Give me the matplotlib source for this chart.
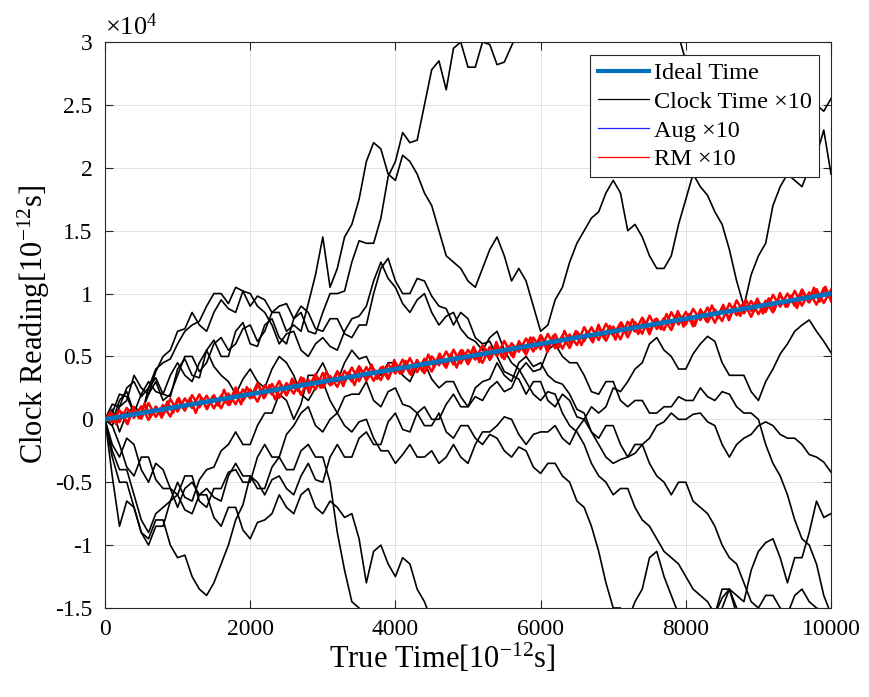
import matplotlib
matplotlib.use("Agg")
import matplotlib.pyplot as plt
import numpy as np
from matplotlib.lines import Line2D
from matplotlib.ticker import FuncFormatter

plt.rcParams["font.family"] = ["Liberation Serif", "DejaVu Serif"]
plt.rcParams["mathtext.fontset"] = "custom"
plt.rcParams["mathtext.rm"] = "Liberation Serif"
plt.rcParams["mathtext.it"] = "Liberation Serif:italic"
plt.rcParams["axes.unicode_minus"] = False

T_END = 10000.0
SCALE = 1e4  # clock runs are written in units of 10^4 ps

# Ten free-running clock readings (units of 10^4 ps), sampled every 100 ps.
clock_1 = [0, -0.02, 0.15, 0.22, 0.05, 0.02, 0.25, 0.33, 0.2, 0.18, 0.4, 0.48, 0.35, 0.33, 0.55,
           0.63, 0.5, 0.5, 0.7, 0.77, 0.6, 0.58, 0.75, 0.8, 0.65, 0.6, 0.8, 0.85, 0.7, 0.68, 0.85,
           1.0, 1.0, 1.02, 1.25, 1.42, 1.4, 1.4, 1.6, 1.93, 2.05, 2.28, 2.2, 2.22, 2.5, 2.78, 2.85,
           2.62, 2.95, 3.0, 2.8, 2.8, 3.0, 2.98, 2.82, 2.84, 2.97, 3.1, 3.2, 3.3, 3.35, 3.4, 3.5,
           3.5, 3.6, 3.65, 3.55, 3.45, 3.45, 3.6, 3.6, 3.5, 3.5, 3.5, 3.4, 3.3, 3.3, 3.3, 3.15,
           3.05, 2.85, 2.75, 2.6, 2.55, 2.45, 2.42, 2.35, 2.45, 2.5, 2.5, 2.4, 2.4, 2.55, 2.55,
           2.45, 2.47, 2.6, 2.62, 2.5, 2.45, 2.55]
clock_2 = [0, 0.08, -0.1, 0.05, 0.1, 0.05, 0.2, 0.3, 0.15, 0.2, 0.35, 0.5, 0.5, 0.38, 0.45, 0.6,
           0.65, 0.55, 0.6, 0.72, 0.75, 0.62, 0.7, 0.85, 0.85, 0.7, 0.75, 0.7, 0.92, 1.15, 1.45,
           1.05, 1.2, 1.45, 1.55, 1.75, 2.05, 2.2, 2.15, 1.95, 1.9, 2.1, 2.05, 1.95, 1.8, 1.7, 1.5,
           1.3, 1.25, 1.2, 1.1, 1.05, 1.2, 1.35, 1.45, 1.3, 1.1, 1.2, 1.1, 0.9, 0.7, 0.75, 0.95,
           1.05, 1.25, 1.4, 1.5, 1.6, 1.65, 1.8, 1.9, 1.8, 1.5, 1.55, 1.45, 1.3, 1.2, 1.2, 1.3,
           1.55, 1.75, 1.95, 1.85, 1.78, 1.65, 1.55, 1.35, 1.1, 0.9, 1.15, 1.3, 1.4, 1.7, 1.85,
           1.95, 1.9, 1.85, 2.0, 2.1, 2.3, 1.95]
clock_3 = [0, -0.05, 0.1, 0.25, 0.3, 0.18, 0.25, 0.4, 0.45, 0.48, 0.6, 0.7, 0.75, 0.78, 0.9, 1.0,
           1.0, 0.92, 1.05, 1.02, 0.9, 0.98, 0.95, 0.85, 0.9, 0.92, 0.8, 0.9, 0.85, 0.72, 0.7,
           0.8, 0.8, 0.68, 0.65, 0.75, 0.75, 1.0, 1.2, 1.28, 1.1, 1.0, 1.0, 1.12, 1.1, 0.98, 0.9,
           0.88, 0.75, 0.85, 0.8, 0.65, 0.6, 0.62, 0.5, 0.38, 0.35, 0.32, 0.2, 0.3, 0.3, 0.15,
           0.1, 0.2, 0.15, 0.02, 0.0, 0.1, 0.05, 0.1, 0.25, 0.22, 0.3, 0.4, 0.45, 0.6, 0.65, 0.55,
           0.5, 0.4, 0.4, 0.52, 0.6, 0.66, 0.62, 0.45, 0.35, 0.35, 0.35, 0.22, 0.15, 0.3, 0.4,
           0.52, 0.6, 0.7, 0.75, 0.79, 0.7, 0.62, 0.53]
clock_4 = [0, 0.05, 0.2, 0.18, 0.05, 0.2, 0.3, 0.22, 0.2, 0.35, 0.45, 0.35, 0.3, 0.45, 0.55, 0.42,
           0.35, 0.3, 0.2, 0.32, 0.4, 0.3, 0.25, 0.4, 0.5, 0.45, 0.35, 0.2, 0.15, 0.25, 0.3, 0.15,
           0.05, -0.05, -0.1, -0.02, 0.0, -0.15, -0.25, -0.25, -0.35, -0.28, -0.2, -0.3, -0.3,
           -0.25, -0.35, -0.3, -0.2, -0.3, -0.35, -0.2, -0.1, -0.1, -0.05, 0.02, 0.0, -0.12,
           -0.2, -0.12, -0.1, -0.1, -0.05, -0.15, -0.2, -0.08, 0.0, -0.1, -0.2, -0.3, -0.35,
           -0.32, -0.3, -0.27, -0.2, -0.15, -0.05, -0.02, 0.05, 0.0, 0.0, 0.04, 0.05, -0.02,
           -0.05, -0.2, -0.3, -0.2, -0.15, -0.12, -0.05, -0.02, -0.05, -0.12, -0.15, -0.15, -0.2,
           -0.28, -0.3, -0.34, -0.42]
clock_5 = [0, -0.2, -0.3, -0.15, -0.2, -0.4, -0.5, -0.35, -0.4, -0.55, -0.6, -0.45, -0.45, -0.65,
           -0.7, -0.55, -0.55, -0.42, -0.4, -0.5, -0.5, -0.3, -0.2, -0.3, -0.3, -0.12, -0.05,
           0.05, 0.1, -0.05, -0.1, 0.0, 0.05, 0.18, 0.2, 0.2, 0.3, 0.15, 0.1, 0.22, 0.25, 0.12,
           0.1, 0.05, -0.05, -0.05, 0.05, -0.1, -0.15, -0.05, -0.05, -0.15, -0.2, -0.12, -0.15,
           -0.25, -0.3, -0.22, -0.25, -0.38, -0.43, -0.35, -0.35, -0.45, -0.5, -0.65, -0.7, -0.85,
           -1.05, -1.3, -1.5, -1.5, -1.6, -1.45, -1.35, -1.1, -1.05, -1.25, -1.4, -1.55, -1.7,
           -1.6, -1.75, -1.65, -1.55, -1.35, -1.35, -1.4, -1.45, -1.2, -1.05, -0.98, -0.95, -1.1,
           -1.3, -1.1, -1.1, -0.9, -0.65, -0.78, -0.75]
clock_6 = [0, -0.25, -0.4, -0.4, -0.6, -0.8, -0.9, -0.75, -0.7, -0.65, -0.5, -0.62, -0.65, -0.48,
           -0.4, -0.38, -0.25, -0.2, -0.1, -0.2, -0.2, -0.05, 0.05, 0.05, 0.2, 0.15, 0.0, 0.12,
           0.35, 0.35, 0.45, 0.32, 0.3, 0.45, 0.55, 0.48, 0.5, 0.38, 0.35, 0.45, 0.45, 0.35, 0.3,
           0.42, 0.45, 0.32, 0.25, 0.3, 0.3, 0.18, 0.1, 0.18, 0.15, 0.25, 0.3, 0.22, 0.25, 0.38,
           0.45, 0.38, 0.4, 0.55, 0.6, 0.5, 0.45, 0.45, 0.35, 0.22, 0.2, 0.3, 0.3, 0.15, 0.1, 0.15,
           0.15, 0.05, 0.05, 0.1, 0.1, 0.18, 0.15, 0.15, 0.25, 0.18, 0.15, 0.22, 0.2, 0.1, 0.05,
           0.05, 0.0, -0.2, -0.35, -0.45, -0.6, -0.8, -0.95, -1.0, -1.15, -1.4, -1.55]
clock_7 = [0, -0.3, -0.5, -0.5, -0.7, -0.9, -0.95, -0.8, -0.8, -1.0, -1.1, -1.08, -1.25, -1.35,
           -1.4, -1.3, -1.15, -1.0, -0.8, -0.68, -0.45, -0.55, -0.55, -0.38, -0.3, -0.4, -0.4,
           -0.25, -0.2, -0.3, -0.3, -0.5, -0.9, -1.2, -1.45, -1.5, -1.6, -1.7, -1.75, -1.75,
           -1.85, -1.95, -2.0, -2.0, -2.1, -2.1, -2.0, -2.15, -2.2, -2.2, -2.3, -2.3, -2.2, -2.3,
           -2.4, -2.4, -2.35, -2.45, -2.5, -2.45, -2.45, -2.4, -2.3, -2.38, -2.4, -2.3, -2.2,
           -2.15, -2.0, -1.95, -1.85, -1.8, -1.7, -1.75, -1.8, -1.85, -1.9, -1.95, -2.0, -1.95,
           -1.9, -1.85, -1.75, -1.65, -1.6, -1.5, -1.35, -1.55, -1.7, -1.75, -1.8, -1.85, -1.9,
           -1.95, -2.0, -2.05, -2.1, -2.15, -2.2, -2.25, -2.3]
clock_8 = [0, -0.05, -0.2, -0.38, -0.45, -0.3, -0.3, -0.48, -0.55, -0.55, -0.7, -0.55, -0.5,
           -0.6, -0.6, -0.78, -0.85, -0.7, -0.7, -0.88, -0.95, -0.82, -0.8, -0.75, -0.6, -0.7,
           -0.75, -0.6, -0.55, -0.7, -0.75, -0.65, -0.7, -0.78, -0.75, -0.95, -1.3, -1.05, -1.0,
           -1.15, -1.25, -1.1, -1.15, -1.35, -1.45, -1.6, -1.7, -1.8, -1.9, -2.0, -2.1, -2.2,
           -2.3, -2.35, -2.4, -2.5, -2.6, -2.55, -2.5, -2.6, -2.7, -2.75, -2.8, -2.75, -2.7, -2.8,
           -2.9, -2.95, -3.0, -2.95, -2.9, -3.0, -3.1, -3.05, -3.0, -3.1, -3.2, -3.15, -3.1, -3.2,
           -3.3, -3.25, -3.2, -3.3, -3.4, -3.35, -3.3, -3.4, -3.5, -3.45, -3.4, -3.5, -3.6, -3.55,
           -3.5, -3.6, -3.7, -3.65, -3.6, -3.7, -3.8]
clock_9 = [0, -0.45, -0.85, -0.65, -0.7, -0.9, -1.0, -0.85, -0.85, -0.65, -0.6, -0.72, -0.75,
           -0.6, -0.55, -0.62, -0.65, -0.45, -0.35, -0.45, -0.45, -0.5, -0.6, -0.48, -0.45, -0.55,
           -0.6, -0.45, -0.35, -0.48, -0.5, -0.3, -0.2, -0.3, -0.3, -0.15, -0.1, -0.2, -0.2,
           -0.02, 0.05, -0.08, -0.1, 0.05, 0.1, 0.0, 0.0, 0.12, 0.2, 0.1, 0.1, 0.25, 0.3, 0.32,
           0.45, 0.35, 0.3, 0.45, 0.5, 0.42, 0.45, 0.35, 0.3, 0.28, 0.2, 0.08, 0.05, -0.1, -0.15,
           -0.05, -0.05, -0.2, -0.3, -0.2, -0.2, -0.35, -0.45, -0.5, -0.6, -0.5, -0.5, -0.65,
           -0.7, -0.75, -0.85, -1.0, -1.1, -1.15, -1.3, -1.45, -1.5, -1.4, -1.4, -1.5, -1.55,
           -1.4, -1.35, -1.45, -1.5, -1.52, -1.6]
clock_10 = [0, 0.12, 0.1, 0.15, 0.35, 0.25, 0.2, 0.38, 0.5, 0.55, 0.7, 0.72, 0.85, 0.75, 0.7,
            0.85, 0.95, 0.88, 0.85, 1.02, 1.0, 0.9, 0.85, 0.75, 0.6, 0.68, 0.7, 0.55, 0.5, 0.6,
            0.65, 0.58, 0.55, 0.7, 0.8, 0.82, 0.9, 1.1, 1.25, 1.12, 1.05, 0.92, 0.85, 0.95, 1.0,
            0.85, 0.75, 0.82, 0.85, 0.72, 0.65, 0.62, 0.55, 0.65, 0.7, 0.55, 0.45, 0.4, 0.3, 0.2,
            0.15, 0.22, 0.2, 0.05, -0.05, -0.1, -0.2, -0.35, -0.45, -0.5, -0.6, -0.55, -0.55,
            -0.7, -0.8, -0.85, -0.95, -1.05, -1.1, -1.15, -1.25, -1.35, -1.4, -1.45, -1.55, -1.42,
            -1.35, -1.5, -1.6, -1.7, -1.75, -1.68, -1.65, -1.8, -1.9, -1.95, -2.0, -2.05, -2.1,
            -2.15, -2.2]

# Corrected clocks: deviation from ideal time (ps).
aug_dev = [0, 40, -30, 60, -50, 20, -70, 50, -20, 80, -60, 30, -40, 70, -80, 50, -30, 60, -50,
           40, -70, 30, -60, 80, -40, 50, -20, 70, -60, 40, -80, 60, -30, 50, -70, 20, -50, 80,
           -40, 60, -30, 70, -60, 40, -80, 50, -20, 60, -70, 30, -50]
rm_dev_a = [0, 350, -420, 610, -280, 540, -650, 300, -470, 720, -380, 560, -300, 680, -540, 420,
            -720, 350, -600, 480, -330, 760, -450, 520, -690, 390, -560, 640, -310, 700, -480,
            350, -620, 560, -400, 730, -520, 300, -680, 470, -360, 650, -590, 420, -740, 510,
            -300, 690, -450, 580, -620, 380, -710, 460, -350, 740, -530, 320, -660, 600, -420,
            700, -560, 360, -730, 480, -380, 620, -500, 700, -340, 560, -680, 430, -590, 750,
            -420, 350, -700, 520, -460, 680, -310, 590, -720, 400, -550, 760, -380, 510, -640,
            330, -700, 620, -450, 720, -560, 400, -680, 540, -420]
rm_dev_b = [0, -300, 520, -610, 380, -450, 700, -520, 340, -680, 590, -410, 720, -350, 480, -630,
            300, -560, 740, -420, 380, -700, 510, -330, 650, -580, 440, -760, 360, -520, 690,
            -400, 610, -300, 720, -470, 560, -640, 330, -710, 490, -380, 670, -550, 420, -700,
            310, -600, 740, -460, 520, -350, 680, -580, 400, -720, 450, -330, 630, -510, 700,
            -390, 570, -680, 340, -600, 730, -430, 500, -650, 380, -740, 560, -320, 690, -480,
            410, -610, 720, -360, 540, -700, 450, -580, 330, -690, 620, -420, 510, -750, 380,
            -560, 700, -340, 600, -480, 730, -410, 550, -650, 300]
rm_dev_c = [0, 480, -560, 320, -700, 610, -380, 740, -450, 300, -650, 560, -420, 690, -330, 520,
            -740, 410, -600, 350, -480, 720, -560, 390, -680, 620, -310, 700, -520, 450, -760,
            340, -590, 660, -400, 530, -710, 380, -460, 750, -350, 600, -640, 420, -720, 560,
            -300, 680, -540, 360, -620, 740, -430, 510, -690, 330, -570, 700, -380, 620, -500,
            440, -730, 580, -340, 690, -610, 400, -480, 760, -560, 300, -700, 520, -420, 650,
            -330, 580, -750, 460, -520, 710, -390, 540, -660, 350, -600, 730, -440, 480, -700,
            610, -320, 690, -560, 420, -740, 380, -500, 640, -360, 720, -600, 330, -680, 540,
            -460, 700, -400, 590, -720, 350, -530, 670, -310, 610, -650, 480, -570, 740, -420,
            390, -690, 560, -350, 700, -480, 620, -600]

clock_runs = [clock_1, clock_2, clock_3, clock_4, clock_5,
              clock_6, clock_7, clock_8, clock_9, clock_10]
rm_runs = [rm_dev_a, rm_dev_b, rm_dev_c]

legend_labels = ["Ideal Time", "Clock Time ×10", "Aug ×10", "RM ×10"]
x_ticks = [0, 2000, 4000, 6000, 8000, 10000]
y_ticks = [-1.5e4, -1e4, -0.5e4, 0, 0.5e4, 1e4, 1.5e4, 2e4, 2.5e4, 3e4]

IDEAL_BLUE = "#0072BD"
AUG_BLUE = "#2020ff"
AXIS_GRAY = "#262626"

fig = plt.figure(figsize=(8.69, 6.97), dpi=100)
ax = fig.add_axes([0.1208, 0.1277, 0.8355, 0.812])


def grid_for(values):
    return np.linspace(0.0, T_END, len(values))


for run in clock_runs:
    ax.plot(grid_for(run), np.array(run) * SCALE, color="black", linewidth=1.2, zorder=2)

t_aug = grid_for(aug_dev)
ax.plot(t_aug, t_aug + np.array(aug_dev), color=AUG_BLUE, linewidth=0.9, zorder=3)

for dev in rm_runs:
    t_rm = grid_for(dev)
    ax.plot(t_rm, t_rm + np.array(dev), color="red", linewidth=1.8, zorder=3)

t_ideal = np.array([0.0, T_END])
ax.plot(t_ideal, t_ideal, color=IDEAL_BLUE, linewidth=3.4, zorder=4)

ax.set_xlim(0, T_END)
ax.set_ylim(-1.5e4, 3e4)
ax.set_xticks(x_ticks)
ax.set_yticks(y_ticks)
ax.yaxis.set_major_formatter(FuncFormatter(lambda v, p: f"{v / SCALE:g}"))
ax.tick_params(direction="in", length=6, width=0.8, top=True, right=True,
               labelsize=17, colors=AXIS_GRAY, labelcolor="black")
ax.tick_params(axis="y", pad=9)
ax.tick_params(axis="x", pad=8)
ax.grid(True, color="#e3e3e3", linewidth=0.7)
ax.set_axisbelow(True)
for sp in ax.spines.values():
    sp.set_color(AXIS_GRAY)
    sp.set_linewidth(0.8)

ax.text(0.0, 1.004, "×10$^{4}$", transform=ax.transAxes, fontsize=19,
        ha="left", va="bottom")
ax.set_xlabel("True Time[10$^{-12}$s]", fontsize=22)
ax.xaxis.set_label_coords(0.464, -0.060)
ax.set_ylabel("Clock Reading[10$^{-12}$s]", fontsize=22, labelpad=2)

# legend keys use thin samples for the per-run traces
legend_handles = [
    Line2D([], [], color=IDEAL_BLUE, linewidth=3.0),
    Line2D([], [], color="black", linewidth=0.9),
    Line2D([], [], color=AUG_BLUE, linewidth=0.9),
    Line2D([], [], color="red", linewidth=0.9),
]
leg = ax.legend(legend_handles, legend_labels,
                loc="upper right", bbox_to_anchor=(0.983, 0.977), borderaxespad=0,
                fontsize=17.5, frameon=True, fancybox=False, framealpha=1,
                edgecolor=AXIS_GRAY, handlelength=2.1, handletextpad=0.2,
                labelspacing=0.27, borderpad=0.3)
leg.get_frame().set_linewidth(0.8)

fig.savefig("out.png", dpi=100)
